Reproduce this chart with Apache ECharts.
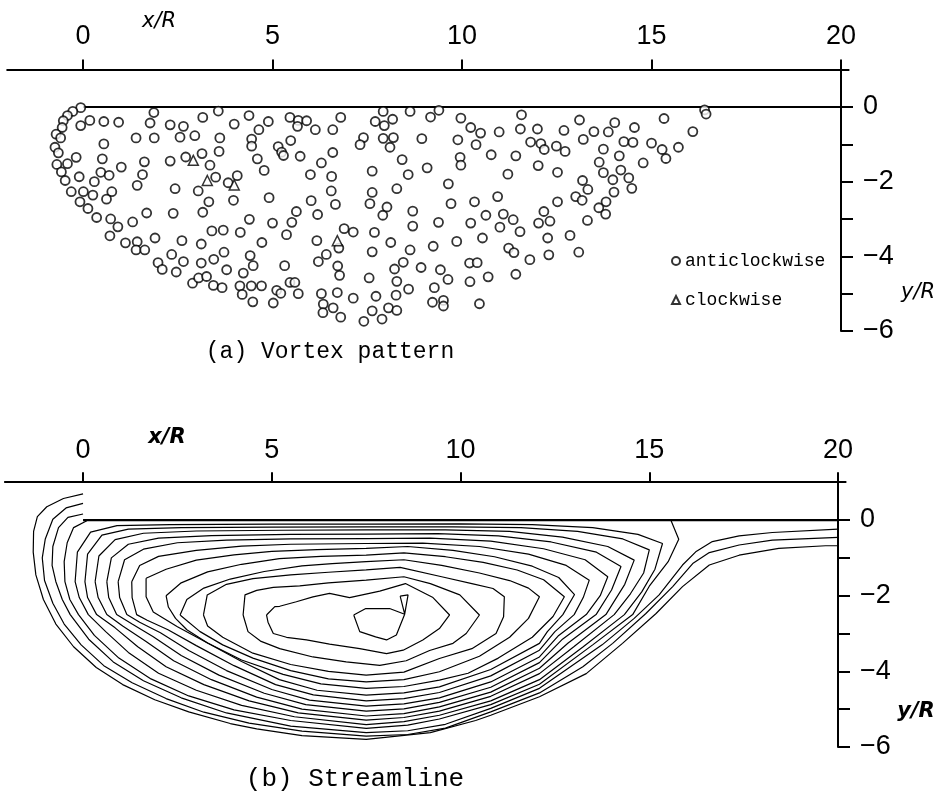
<!DOCTYPE html>
<html>
<head>
<meta charset="utf-8">
<script src="https://cdn.jsdelivr.net/npm/echarts@6/dist/echarts.min.js"></script>
<style>
  body { margin: 0; background: #fff; }
  #chart { width: 950px; height: 800px; }
</style>
</head>
<body>
<div id="chart"></div>
<script>
// (a) vortex positions, x/R and y/R
var anticlockwise = [
  [-0.06,-0.02],[-0.27,-0.12],[-0.41,-0.23],[-0.52,-0.37],[-0.55,-0.55],[-0.71,-0.73],[-0.59,-0.83],[-0.74,-1.08],
  [-0.65,-1.23],[-0.69,-1.54],[-0.57,-1.74],[-0.47,-1.97],[-0.31,-2.27],[-0.08,-2.54],[0.13,-2.72],[0.36,-2.96],
  [-0.06,-0.50],[0.18,-0.36],[0.55,-0.39],[0.94,-0.41],[1.77,-0.43],[1.87,-0.15],[2.30,-0.48],[2.65,-0.52],
  [3.16,-0.28],[3.57,-0.11],[3.99,-0.46],[4.38,-0.23],[1.40,-0.83],[1.88,-0.83],[2.56,-0.81],[2.95,-0.77],
  [3.61,-0.83],[4.45,-0.86],[4.45,-1.05],[0.55,-0.99],[-0.18,-1.35],[-0.41,-1.52],[0.51,-1.39],[1.62,-1.47],
  [2.30,-1.45],[2.71,-1.34],[3.14,-1.25],[3.59,-1.19],[1.01,-1.61],[0.47,-1.75],[0.69,-1.83],[1.57,-1.81],
  [3.35,-1.56],[-0.10,-1.87],[0.30,-2.00],[1.43,-2.10],[3.50,-1.88],[3.83,-2.03],[4.07,-1.84],[0.01,-2.27],
  [0.26,-2.36],[0.76,-2.27],[0.62,-2.47],[2.43,-2.19],[3.04,-2.25],[3.32,-2.54],[3.97,-2.50],[1.68,-2.84],
  [2.38,-2.85],[3.16,-2.82],[0.73,-3.00],[1.31,-3.08],[4.39,-3.01],[0.92,-3.21],[0.71,-3.45],[3.40,-3.32],
  [3.70,-3.30],[4.15,-3.36],[1.90,-3.51],[2.61,-3.58],[3.12,-3.67],[1.12,-3.64],[1.43,-3.61],[1.40,-3.83],
  [1.63,-3.83],[2.34,-3.95],[3.72,-3.89],[3.45,-4.08],[2.65,-4.14],[3.12,-4.18],[4.41,-3.98],[4.49,-4.25],
  [1.98,-4.17],[2.09,-4.35],[2.46,-4.42],[3.79,-4.36],[4.23,-4.45],[2.89,-4.72],[3.05,-4.58],[3.26,-4.54],
  [3.44,-4.78],[3.67,-4.84],[4.14,-4.79],[4.44,-4.79],[4.20,-5.02],[4.48,-5.22],
  [4.64,-0.61],[4.89,-0.39],[5.46,-0.28],[5.68,-0.36],[5.66,-0.52],[5.90,-0.37],[6.13,-0.61],[6.59,-0.61],
  [6.80,-0.28],[7.71,-0.39],[7.92,-0.12],[7.95,-0.50],[8.17,-0.33],[8.63,-0.12],[9.17,-0.27],[9.39,-0.09],
  [9.97,-0.30],[5.48,-0.90],[5.15,-1.06],[5.24,-1.21],[5.29,-1.30],[5.73,-1.32],[4.60,-1.39],[7.40,-0.82],
  [7.31,-1.01],[7.92,-0.84],[8.19,-0.82],[8.10,-1.08],[8.94,-0.85],[9.89,-0.88],[6.59,-1.22],[6.29,-1.50],
  [8.42,-1.41],[9.95,-1.35],[9.97,-1.56],[4.78,-1.70],[6.00,-1.81],[6.56,-1.86],[7.63,-1.72],[8.58,-1.81],
  [9.08,-1.63],[6.55,-2.25],[8.28,-2.19],[9.64,-2.06],[7.63,-2.29],[4.91,-2.43],[6.02,-2.51],[6.66,-2.61],
  [7.57,-2.59],[8.02,-2.68],[7.91,-2.90],[8.70,-2.79],[9.71,-2.59],[5.63,-2.80],[6.19,-2.88],[5.51,-3.09],
  [5.00,-3.11],[6.89,-3.26],[7.13,-3.35],[7.69,-3.36],[8.70,-3.19],[9.38,-3.09],[5.37,-3.42],[4.72,-3.63],
  [6.17,-3.58],[6.75,-3.78],[8.12,-3.63],[7.63,-3.88],[8.63,-3.83],[9.24,-3.73],[9.86,-3.60],[6.42,-3.95],
  [6.21,-4.14],[6.72,-4.26],[6.77,-4.51],[5.32,-4.25],[8.22,-4.34],[8.45,-4.16],[8.92,-4.30],[9.43,-4.36],
  [4.71,-4.79],[5.46,-4.70],[5.59,-4.70],[5.11,-4.91],[5.22,-4.99],[5.68,-5.00],[6.29,-5.00],[6.71,-4.97],
  [7.13,-5.12],[7.55,-4.58],[7.73,-5.07],[8.28,-4.67],[8.26,-5.04],[8.59,-4.88],[9.27,-4.84],[9.63,-4.62],
  [5.02,-5.25],[6.34,-5.28],[6.33,-5.51],[6.60,-5.38],[6.80,-5.63],[7.41,-5.74],[7.63,-5.46],[7.89,-5.68],
  [8.06,-5.38],[8.28,-5.45],[9.22,-5.23],[9.51,-5.18],[9.51,-5.33],
  [11.57,-0.21],[10.23,-0.55],[10.49,-0.70],[10.98,-0.67],[11.54,-0.59],[11.99,-0.59],[12.69,-0.63],[13.10,-0.35],
  [13.48,-0.66],[13.86,-0.67],[14.03,-0.42],[14.55,-0.55],[15.33,-0.31],[16.09,-0.66],[16.40,-0.08],[16.44,-0.19],
  [10.37,-1.01],[10.77,-1.28],[11.42,-1.31],[11.81,-0.94],[12.08,-0.98],[12.17,-1.14],[12.49,-1.05],[12.72,-1.19],
  [13.20,-0.87],[13.73,-1.13],[14.27,-0.93],[14.51,-0.95],[15.00,-0.97],[15.28,-1.14],[15.38,-1.38],[15.71,-1.08],
  [14.78,-1.50],[14.15,-1.31],[13.62,-1.48],[11.21,-1.80],[12.01,-1.57],[12.52,-1.75],[13.73,-1.76],[14.19,-1.69],
  [14.40,-1.90],[13.98,-1.95],[13.18,-1.97],[13.32,-2.21],[14.48,-2.18],[14.01,-2.28],[10.33,-2.54],[10.94,-2.40],
  [12.52,-2.54],[13.00,-2.40],[13.17,-2.50],[13.80,-2.54],[13.61,-2.70],[13.79,-2.87],[10.63,-2.90],[11.09,-2.87],
  [11.35,-3.02],[12.16,-2.80],[10.23,-3.11],[11.00,-3.22],[11.53,-3.34],[12.02,-3.11],[12.32,-3.06],[13.31,-3.04],
  [10.54,-3.51],[12.26,-3.51],[12.85,-3.44],[11.23,-3.78],[11.37,-3.90],[11.79,-4.09],[12.29,-3.96],[13.08,-3.89],
  [10.20,-4.18],[10.40,-4.17],[10.21,-4.68],[10.69,-4.55],[11.42,-4.48],[10.46,-5.27]
];
var clockwise = [[2.91,-1.43],[3.28,-1.97],[3.99,-2.09],[6.71,-3.58]];

// surface line y/R = 0 from the cylinder downstream
var surface = [[0,0],[20,0]];

// (b) streamlines, outermost first
var streamA1 = [[0,0.69],[-0.52,0.57],[-0.96,0.35],[-1.21,0.09],[-1.31,-0.3],[-1.32,-0.85],[-1.25,-1.45],[-1.05,-2.1],[-0.72,-2.75],[-0.25,-3.35],[0.35,-3.9],[1.05,-4.35],[1.9,-4.75],[2.8,-5.07],[3.9,-5.38],[4.6,-5.52],[5.8,-5.7],[7.5,-5.8],[9.2,-5.62],[10.4,-5.3],[10.8,-5.16],[12.09,-4.67],[13.33,-4.06],[14.29,-3.26],[15.18,-2.47],[15.88,-1.76],[16.59,-1.19],[17.38,-0.93],[18.43,-0.75],[19.67,-0.68],[20,-0.68]];
var streamA2 = [[0,0.44],[-0.45,0.32],[-0.8,0.02],[-1.0,-0.5],[-1.08,-1.0],[-1.02,-1.6],[-0.8,-2.2],[-0.5,-2.75],[-0.05,-3.3],[0.55,-3.85],[1.3,-4.3],[2.2,-4.72],[3.2,-5.08],[4.4,-5.37],[5.8,-5.58],[7.5,-5.71],[8.6,-5.67],[9.6,-5.5],[10.8,-5.07],[12.09,-4.57],[13.24,-3.88],[14.03,-3.26],[14.91,-2.47],[15.62,-1.76],[16.15,-1.15],[16.59,-0.86],[17.38,-0.66],[18.26,-0.53],[20,-0.46]];
var streamA3 = [[0,0.16],[-0.4,0.07],[-0.65,-0.2],[-0.8,-0.7],[-0.82,-1.2],[-0.72,-1.63],[-0.55,-2.1],[-0.34,-2.5],[0.15,-3.15],[0.8,-3.75],[1.6,-4.25],[2.6,-4.7],[3.8,-5.1],[5.5,-5.45],[7.5,-5.62],[8.6,-5.57],[9.6,-5.4],[10.8,-4.98],[12.09,-4.45],[13.75,-3.3],[14.6,-2.6],[15.26,-1.98],[15.88,-1.19],[16.23,-0.84],[16.67,-0.57],[17.38,-0.42],[18.26,-0.33],[20,-0.24]];
var streamS = [[0.1,-0.02],[-0.25,-0.2],[-0.42,-0.6],[-0.5,-1.1],[-0.48,-1.63],[-0.35,-2.1],[-0.12,-2.5],[0.3,-3.05],[0.95,-3.65],[1.8,-4.2],[2.8,-4.65],[4.0,-5.02],[5.5,-5.3],[7.5,-5.51],[8.6,-5.42],[9.44,-5.26],[10.8,-4.88],[12.09,-4.34],[13.5,-3.3],[14.56,-2.5],[15.0,-1.75],[15.5,-1.1],[15.78,-0.51],[15.57,0]];
var loop12 = [[-0.21,-1.63],[-0.15,-0.85],[0.2,-0.32],[0.9,-0.15],[2.3,-0.12],[5.0,-0.11],[7.5,-0.11],[10.0,-0.1],[11.9,-0.12],[13.5,-0.2],[14.7,-0.38],[15.35,-0.62],[15.15,-1.3],[14.8,-1.9],[14.34,-2.5],[13.25,-3.35],[12.09,-4.22],[10.8,-4.78],[9.44,-5.16],[8.5,-5.33],[7.5,-5.41],[5.6,-5.2],[4.2,-4.9],[3.0,-4.5],[2.0,-4.05],[1.2,-3.5],[0.6,-2.95],[0.14,-2.5],[-0.1,-2.05],[-0.21,-1.63]];
var loop11 = [[0.05,-1.63],[0.12,-0.9],[0.5,-0.4],[1.2,-0.24],[2.6,-0.2],[5.0,-0.19],[7.5,-0.18],[9.8,-0.18],[11.6,-0.2],[13.1,-0.3],[14.3,-0.5],[15.0,-0.79],[14.85,-1.4],[14.5,-1.95],[14.07,-2.5],[13.0,-3.35],[12.09,-4.06],[10.8,-4.66],[9.44,-5.05],[8.5,-5.22],[7.5,-5.29],[5.7,-5.1],[4.4,-4.78],[3.2,-4.35],[2.2,-3.88],[1.45,-3.35],[0.85,-2.85],[0.36,-2.5],[0.12,-2.05],[0.05,-1.63]];
var loop10 = [[0.32,-1.63],[0.42,-0.95],[0.85,-0.52],[1.6,-0.35],[3.0,-0.29],[5.3,-0.27],[7.5,-0.26],[9.6,-0.26],[11.3,-0.3],[12.7,-0.45],[13.9,-0.7],[14.6,-1.06],[14.35,-1.7],[13.85,-2.5],[12.85,-3.25],[12.09,-3.92],[10.8,-4.55],[9.44,-4.94],[8.5,-5.12],[7.5,-5.18],[5.8,-5.0],[4.6,-4.68],[3.4,-4.22],[2.4,-3.72],[1.65,-3.2],[1.05,-2.8],[0.63,-2.5],[0.4,-2.05],[0.32,-1.63]];
var loop9 = [[0.63,-1.63],[0.75,-1.0],[1.2,-0.64],[2.0,-0.48],[3.4,-0.41],[5.5,-0.38],[7.5,-0.37],[9.4,-0.36],[11.0,-0.42],[12.4,-0.58],[13.6,-0.85],[14.25,-1.23],[14.0,-1.85],[13.59,-2.5],[12.7,-3.15],[12.09,-3.77],[10.8,-4.42],[9.44,-4.82],[8.5,-4.99],[7.5,-5.05],[5.9,-4.88],[4.8,-4.58],[3.6,-4.1],[2.6,-3.58],[1.85,-3.08],[1.3,-2.75],[0.89,-2.5],[0.68,-2.05],[0.63,-1.63]];
var loop8 = [[0.93,-1.63],[1.1,-1.05],[1.6,-0.77],[2.5,-0.6],[3.8,-0.53],[5.5,-0.5],[7.5,-0.49],[9.2,-0.48],[10.8,-0.56],[12.2,-0.76],[13.3,-1.05],[13.9,-1.5],[13.7,-2.0],[13.33,-2.5],[12.6,-3.05],[12.09,-3.62],[10.8,-4.28],[9.44,-4.7],[8.5,-4.86],[7.5,-4.92],[6.0,-4.76],[5.0,-4.48],[3.8,-3.98],[2.8,-3.45],[2.05,-2.98],[1.5,-2.7],[1.16,-2.5],[0.97,-2.05],[0.93,-1.63]];
var loop7 = [[1.29,-1.63],[1.5,-1.2],[2.0,-0.96],[3.0,-0.8],[4.2,-0.69],[5.5,-0.64],[7.5,-0.62],[9.0,-0.61],[10.5,-0.7],[11.8,-0.9],[12.8,-1.2],[13.41,-1.59],[13.25,-2.05],[13.01,-2.5],[12.5,-2.95],[12.09,-3.44],[10.8,-4.12],[9.44,-4.56],[8.5,-4.72],[7.5,-4.78],[6.1,-4.62],[5.1,-4.35],[4.0,-3.85],[3.0,-3.32],[2.25,-2.9],[1.7,-2.65],[1.42,-2.5],[1.3,-2.05],[1.29,-1.63]];
var loop6 = [[1.67,-1.54],[2.2,-1.3],[3.0,-1.06],[4.0,-0.92],[5.0,-0.83],[6.2,-0.78],[7.5,-0.75],[8.6,-0.7],[9.8,-0.8],[10.9,-0.97],[11.9,-1.22],[12.6,-1.52],[13.02,-1.97],[12.71,-2.5],[12.3,-2.95],[12.09,-3.26],[10.8,-3.95],[9.44,-4.41],[8.5,-4.57],[7.5,-4.63],[6.2,-4.5],[5.2,-4.22],[4.2,-3.74],[3.2,-3.2],[2.5,-2.82],[1.86,-2.43],[1.67,-2.03],[1.67,-1.54]];
var loop5 = [[2.2,-2.0],[2.6,-1.66],[3.3,-1.37],[4.2,-1.17],[5.2,-1.02],[6.3,-0.96],[7.5,-0.93],[8.5,-0.87],[9.6,-0.97],[10.6,-1.12],[11.5,-1.32],[12.2,-1.58],[12.75,-2.03],[12.45,-2.55],[11.9,-3.1],[11.0,-3.65],[10.2,-4.05],[9.44,-4.23],[8.5,-4.4],[7.5,-4.45],[6.3,-4.33],[5.3,-4.08],[4.2,-3.7],[3.3,-3.25],[2.75,-2.9],[2.45,-2.6],[2.26,-2.3],[2.2,-2.0]];
var loop4 = [[2.57,-2.51],[2.75,-2.1],[3.2,-1.8],[3.9,-1.56],[4.8,-1.36],[5.8,-1.21],[6.6,-1.15],[7.5,-1.10],[8.5,-1.05],[9.5,-1.2],[10.5,-1.4],[11.3,-1.6],[11.8,-1.8],[12.09,-2.03],[11.8,-2.6],[11.3,-3.1],[10.5,-3.6],[9.44,-4.01],[8.5,-4.22],[7.5,-4.28],[6.5,-4.2],[5.5,-3.98],[4.5,-3.65],[3.7,-3.3],[3.1,-2.95],[2.57,-2.51]];
var loop3 = [[3.19,-2.51],[3.29,-1.98],[3.8,-1.7],[4.5,-1.55],[5.5,-1.45],[6.5,-1.38],[7.5,-1.32],[8.4,-1.25],[9.5,-1.5],[10.3,-1.68],[10.86,-1.81],[11.16,-2.03],[11.14,-2.56],[10.94,-3.0],[10.3,-3.4],[9.44,-3.66],[8.5,-4.02],[7.5,-4.10],[6.5,-4.0],[5.5,-3.82],[4.5,-3.52],[3.7,-3.1],[3.3,-2.8],[3.19,-2.51]];
var loop2 = [[4.24,-2.51],[4.29,-1.98],[4.6,-1.86],[5.04,-1.78],[5.74,-1.74],[6.5,-1.66],[7.5,-1.59],[8.5,-1.5],[9.2,-1.68],[9.98,-1.98],[10.5,-2.51],[10.15,-3.0],[9.8,-3.26],[9.18,-3.45],[8.56,-3.72],[7.86,-3.84],[6.97,-3.75],[6.09,-3.62],[5.21,-3.40],[4.7,-3.2],[4.37,-2.95],[4.24,-2.51]];
var loop1 = [[4.86,-2.51],[5.08,-2.29],[5.21,-2.28],[5.65,-2.16],[6.09,-2.03],[6.53,-1.94],[7.06,-2.05],[7.86,-1.88],[8.54,-1.68],[9.27,-2.05],[9.71,-2.51],[9.44,-2.87],[9.0,-3.17],[8.48,-3.44],[8.04,-3.53],[7.33,-3.40],[6.53,-3.28],[5.92,-3.17],[5.39,-3.1],[5.04,-3.0],[4.9,-2.7],[4.86,-2.51]];
var core = [[7.17,-2.51],[7.49,-2.34],[8.12,-2.34],[8.52,-2.49],[8.30,-3.04],[8.04,-3.17],[7.75,-3.09],[7.33,-2.95],[7.17,-2.51]];
var tip = [[8.40,-2.01],[8.61,-1.98],[8.52,-2.49],[8.40,-2.01]];

var xTicks = [0, 5, 10, 15, 20];
var yTicks = [0, -1, -2, -3, -4, -5, -6];
var yLabels = [0, -2, -4, -6];

var chart = echarts.init(document.getElementById('chart'));

function minus(v) { return String(v).replace('-', '\u2212'); }

function xAxisFor(i, min, margin) {
  return {
    type: 'value', gridIndex: i, position: 'top', min: min, max: 20.2,
    axisLine: { onZero: false, lineStyle: { color: '#000', width: 2 } },
    axisTick: { customValues: xTicks, length: 10, lineStyle: { color: '#000', width: 2 } },
    axisLabel: { customValues: xTicks, margin: margin, color: '#000', fontSize: 27, fontFamily: 'Liberation Sans' },
    splitLine: { show: false }
  };
}
function yAxisFor(i) {
  return {
    type: 'value', gridIndex: i, position: 'right', min: -6, max: 1, offset: -7.6,
    axisLine: { onZero: false, lineStyle: { color: '#000', width: 2 } },
    axisTick: { customValues: yTicks, length: 12, lineStyle: { color: '#000', width: 2 } },
    axisLabel: { customValues: yLabels, margin: 22, color: '#000', fontSize: 27, fontFamily: 'Liberation Sans', formatter: minus },
    splitLine: { show: false }
  };
}

var streams = [streamA1, streamA2, streamA3, streamS, loop12, loop11, loop10, loop9, loop8, loop7,
  loop6, loop5, loop4, loop3, loop2, loop1, core, tip];

var series = [
  { type: 'line', xAxisIndex: 0, yAxisIndex: 0, data: surface, symbol: 'none', silent: true,
    lineStyle: { color: '#000', width: 2 }, z: 1 },
  { name: 'anticlockwise', type: 'scatter', xAxisIndex: 0, yAxisIndex: 0, data: anticlockwise,
    symbol: 'circle', symbolSize: 9, itemStyle: { color: '#fff', borderColor: '#000', borderWidth: 1.8 }, z: 3 },
  { name: 'clockwise', type: 'scatter', xAxisIndex: 0, yAxisIndex: 0, data: clockwise,
    symbol: 'triangle', symbolSize: 10, itemStyle: { color: '#fff', borderColor: '#000', borderWidth: 1.5 }, z: 3 },
  { type: 'line', xAxisIndex: 1, yAxisIndex: 1, data: surface, symbol: 'none', silent: true,
    lineStyle: { color: '#000', width: 2.2 }, z: 2 }
];
streams.forEach(function (d) {
  series.push({ type: 'line', xAxisIndex: 1, yAxisIndex: 1, data: d, symbol: 'none', silent: true,
    lineStyle: { color: '#000', width: 1.2 } });
});

function label(x, y, text, font) {
  return { type: 'text', x: x, y: y, style: { text: text, font: font, fill: '#000', textAlign: 'center', textVerticalAlign: 'middle' } };
}

var option = {
  animation: false,
  backgroundColor: '#fff',
  grid: [
    { left: 7.2, right: 101.4, top: 69.6, height: 261.4, outerBoundsMode: 'none' },
    { left: 4.9, right: 104.4, top: 482.2, height: 264.8, outerBoundsMode: 'none' }
  ],
  xAxis: [xAxisFor(0, -2.0, 20), xAxisFor(1, -2.07, 18)],
  yAxis: [yAxisFor(0), yAxisFor(1)],
  legend: {
    data: [{ name: 'anticlockwise', icon: 'circle' }, { name: 'clockwise', icon: 'triangle' }],
    orient: 'vertical', left: 666, top: 247, itemWidth: 8, itemHeight: 8, itemGap: 21,
    textStyle: { color: '#000', fontSize: 18, fontFamily: 'Liberation Mono' }
  },
  graphic: [
    label(159, 22, 'x/R', 'italic 21px DejaVu Sans'),
    label(918, 293, 'y/R', 'italic 21px DejaVu Sans'),
    label(167, 438, 'x/R', 'italic bold 21px DejaVu Sans'),
    label(916, 712, 'y/R', 'italic bold 21px DejaVu Sans'),
    label(330, 352, '(a) Vortex pattern', '23px Liberation Mono'),
    label(355, 779, '(b) Streamline', '26px Liberation Mono')
  ],
  series: series
};
chart.setOption(option);
</script>
</body>
</html>
